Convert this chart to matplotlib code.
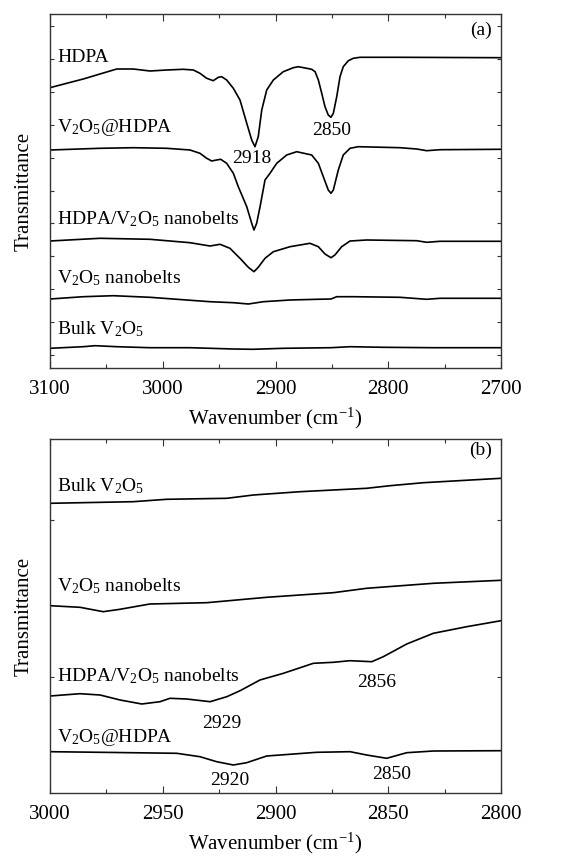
import numpy as np
import matplotlib
matplotlib.use("Agg")
import matplotlib.pyplot as plt
from matplotlib.ticker import MultipleLocator, FixedLocator

plt.rcParams['font.family'] = ['Liberation Serif', 'DejaVu Serif']
plt.rcParams['mathtext.fontset'] = 'custom'
plt.rcParams['mathtext.rm'] = 'Liberation Serif'
plt.rcParams['mathtext.it'] = 'Liberation Serif:italic'
plt.rcParams['mathtext.bf'] = 'Liberation Serif:bold'

# ---------------- Panel (a) data ----------------
a_hdpa_x = [3100, 3085.2, 3070.5, 3055.7, 3040.8, 3026.1, 3011.3, 2996.5, 2981.8, 2972.9,
            2967.0, 2961.0, 2955.2, 2950.7, 2947.7, 2943.3, 2937.4, 2931.5, 2925.5, 2921.1,
            2918.2, 2915.3, 2912.2, 2907.8, 2901.9, 2893.1, 2884.2, 2879.8, 2872.3, 2867.9,
            2864.9, 2862.0, 2859.0, 2856.1, 2853.2, 2850.8, 2848.7, 2845.7, 2842.8, 2839.9,
            2835.4, 2831.0, 2825.1, 2789.6, 2700]
a_hdpa_y = [281.3, 285.7, 290, 295, 300, 300, 298, 299, 299.7, 299,
            295.7, 290.7, 288.3, 291.7, 292.3, 289, 280.7, 269, 245.7, 229,
            222.3, 232.3, 259, 279, 289, 297.3, 301.3, 302.3, 300.7, 299.7,
            297.3, 289, 275.7, 262.3, 254, 251.7, 255.7, 272.3, 292.3, 302.3,
            308.3, 310.7, 311.7, 311.7, 311.3]

a_v2o5hdpa_x = [3100, 3055.7, 3026.1, 2996.5, 2975.8, 2967.0, 2961.0, 2956.6, 2952.2, 2948.6,
                2943.3, 2937.4, 2933.0, 2925.5, 2921.1, 2919.1, 2916.7, 2913.7, 2909.3, 2904.9,
                2898.9, 2890.1, 2881.2, 2867.9, 2862.0, 2857.6, 2853.2, 2850.8, 2848.7, 2844.3,
                2839.9, 2833.9, 2826.6, 2789.6, 2774.8, 2765.9, 2754.1, 2700]
a_v2o5hdpa_y = [219, 220.7, 221.3, 220.7, 219, 215.7, 210.7, 208, 209, 209.7,
                205.7, 195.7, 182.3, 162.3, 145.7, 139, 145.7, 162.3, 189, 195.7,
                205.7, 214, 217.3, 214, 205.7, 192.3, 179, 175.7, 179, 199,
                214, 220.7, 222.3, 221.3, 220, 218.3, 219.3, 219.7]

a_hdpanb_x = [3100, 3055.7, 3011.3, 2975.8, 2958.1, 2949.2, 2940.4, 2931.5, 2924.1, 2919.1,
              2915.3, 2909.3, 2901.9, 2887.1, 2869.4, 2862.0, 2856.1, 2850.8, 2847.3, 2841.3,
              2833.9, 2819.1, 2774.8, 2765.9, 2754.1, 2700]
a_hdpanb_y = [128, 130.7, 129.7, 126.3, 123, 124.7, 120.7, 110.7, 101.7, 97.3,
              101.7, 110.7, 117.3, 122.3, 125.7, 122.3, 115, 111.3, 114, 122.3,
              128, 129, 128.3, 126.7, 127.7, 127.7]

a_nb_x = [3100, 3070.4, 3043.8, 3011.3, 2978.8, 2958.1, 2937.4, 2924.1, 2910.8, 2887.1,
          2863.5, 2850.8, 2845.7, 2831.0, 2789.6, 2765.9, 2754.1, 2700]
a_nb_y = [70, 72.3, 73.3, 71.7, 69, 67.3, 66.3, 65, 67.3, 69,
          69.7, 70, 72.3, 72.3, 71.7, 69.7, 70.7, 70.7]

a_bulk_x = [3100, 3070.5, 3060.1, 3040.8, 3011.3, 2975.8, 2937.4, 2919.7, 2893.1, 2850.8,
            2833.9, 2804.4, 2760.0, 2700]
a_bulk_y = [20.7, 22.3, 23.3, 22.3, 21.3, 21.3, 20, 19.7, 20.7, 21.3,
            22.3, 21.7, 21.3, 21.3]

# ---------------- Panel (b) data ----------------
b_bulk_x = [3000, 2963.1, 2948.3, 2921.6, 2909.8, 2889.1, 2859.6, 2849.2, 2834.4, 2800]
b_bulk_y = [289.7, 291.3, 293.7, 294.7, 298, 301.3, 304.7, 307.3, 310.3, 314.7]

b_nb_x = [3000, 2986.7, 2976.4, 2969.0, 2955.7, 2930.5, 2903.9, 2874.4, 2859.6, 2830.0, 2800]
b_nb_y = [187.3, 185.7, 181.3, 183.7, 189, 190.3, 195.7, 200.3, 204.7, 209.7, 212.7]

b_hdpanb_x = [3000, 2986.7, 2977.8, 2968.9, 2959.3, 2951.2, 2946.8, 2939.4, 2929.0, 2921.6,
              2915.7, 2906.9, 2896.5, 2883.2, 2874.4, 2867.0, 2857.3, 2852.2, 2841.8, 2830.0,
              2815.2, 2800]
b_hdpanb_y = [97, 99.3, 98, 93, 89, 91.3, 94.7, 94, 91.3, 96.3,
              102.3, 113, 119.7, 129.7, 130.7, 132.3, 131.3, 136.3, 149, 159.7,
              166.3, 172.3]

b_v2o5hdpa_x = [3000, 2977.8, 2943.8, 2933.5, 2926.1, 2918.7, 2912.8, 2903.9, 2881.7, 2866.9,
                2859.6, 2850.7, 2841.8, 2830.0, 2800]
b_v2o5hdpa_y = [41.3, 40.7, 39.7, 36.3, 31.3, 28, 30.3, 37, 40.7, 41.3,
                38, 34.7, 40.3, 42, 42.3]

# labels
a_names = ['HDPA', r'V$_2$O$_5$@HDPA', r'HDPA/V$_2$O$_5$ nanobelts',
           r'V$_2$O$_5$ nanobelts', r'Bulk V$_2$O$_5$']
a_name_y = [307.3, 237.3, 145, 85.7, 34.7]
a_peaks = ['2918', '2850']
a_peak_x = [2920.8, 2850]
a_peak_y = [205.7, 234]

b_names = [r'Bulk V$_2$O$_5$', r'V$_2$O$_5$ nanobelts',
           r'HDPA/V$_2$O$_5$ nanobelts', r'V$_2$O$_5$@HDPA']
b_name_y = [301.3, 201.3, 111.3, 51.3]
b_peaks = ['2929', '2856', '2920', '2850']
b_peak_x = [2923.9, 2855.1, 2920.2, 2848.5]
b_peak_y = [64.7, 106.3, 8, 13.7]

FS = 14
TFS = 15
fig = plt.figure(figsize=(5.79, 8.57), dpi=100)
axa = fig.add_axes([50/579, (857-368)/857, 451/579, 354/857])
axb = fig.add_axes([50/579, (857-793)/857, 451/579, 354/857])

lw = 1.2
for x, y in [(a_hdpa_x, a_hdpa_y), (a_v2o5hdpa_x, a_v2o5hdpa_y), (a_hdpanb_x, a_hdpanb_y),
             (a_nb_x, a_nb_y), (a_bulk_x, a_bulk_y)]:
    axa.plot(x, y, color='black', lw=lw)
for x, y in [(b_bulk_x, b_bulk_y), (b_nb_x, b_nb_y), (b_hdpanb_x, b_hdpanb_y),
             (b_v2o5hdpa_x, b_v2o5hdpa_y)]:
    axb.plot(x, y, color='black', lw=lw)

axa.set_xlim(3100, 2700)
axa.set_ylim(1, 355)
axb.set_xlim(3000, 2800)
axb.set_ylim(0, 354)

axa.xaxis.set_major_locator(MultipleLocator(100))
axa.xaxis.set_minor_locator(MultipleLocator(50))
axb.xaxis.set_major_locator(MultipleLocator(50))
axb.xaxis.set_minor_locator(MultipleLocator(25))
axa.yaxis.set_major_locator(FixedLocator([14 + 32.9 * k for k in range(11)]))
axb.yaxis.set_major_locator(FixedLocator([116, 273]))

for ax in (axa, axb):
    for s in ax.spines.values():
        s.set_color('#333333')
        s.set_linewidth(1.0)
    ax.tick_params(axis='both', which='both', direction='in', top=True, right=True,
                   color='#333333', labelsize=TFS)
    ax.tick_params(axis='x', which='major', length=5, width=0.8, pad=8.5)
    ax.tick_params(axis='x', which='minor', length=3, width=0.8)
    ax.tick_params(axis='y', which='major', length=3, width=0.8, labelleft=False)
    ax.set_xlabel(r'Wavenumber (cm$^{-1}$)', fontsize=TFS, labelpad=5)
    ax.set_ylabel('Transmittance', fontsize=TFS, labelpad=12)

xa_lab = 3100 - 7 / 1.1275
for name, yy in zip(a_names, a_name_y):
    axa.text(xa_lab, yy, name, fontsize=FS, ha='left', va='baseline')
for t, xx, yy in zip(a_peaks, a_peak_x, a_peak_y):
    axa.text(xx, yy, t, fontsize=FS, ha='center', va='baseline')
axa.text(2708.2, 334, '(a)', fontsize=FS, ha='right', va='baseline')

xb_lab = 3000 - 7 / 2.255
for name, yy in zip(b_names, b_name_y):
    axb.text(xb_lab, yy, name, fontsize=FS, ha='left', va='baseline')
for t, xx, yy in zip(b_peaks, b_peak_x, b_peak_y):
    axb.text(xx, yy, t, fontsize=FS, ha='center', va='baseline')
axb.text(2804.1, 338, '(b)', fontsize=FS, ha='right', va='baseline')

fig.savefig('out.png', dpi=100)
